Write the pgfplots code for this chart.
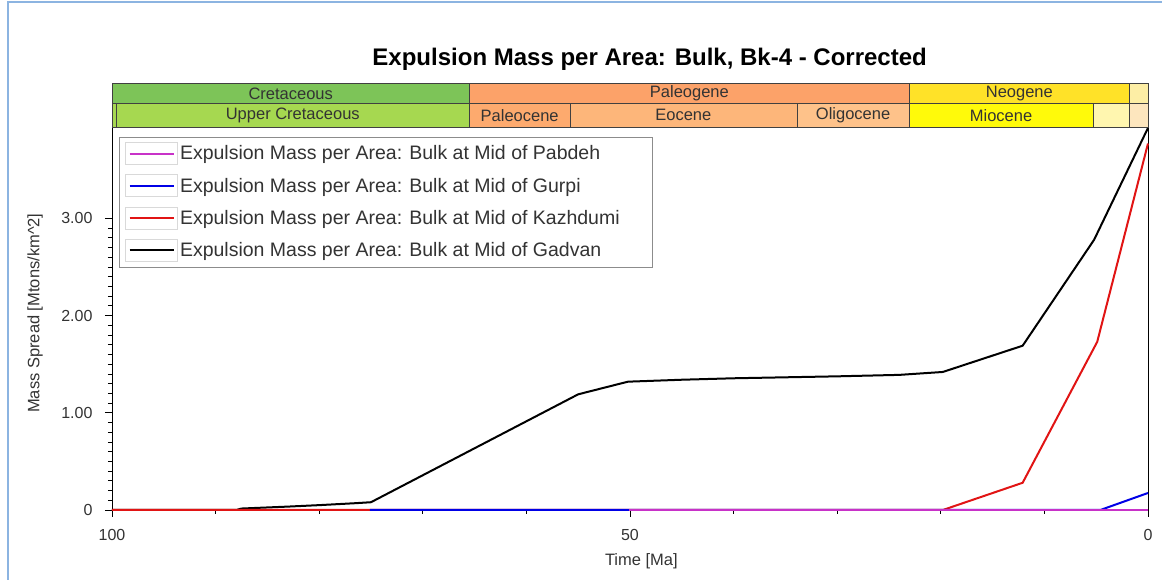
\documentclass[border=0pt]{standalone}
\usepackage{pgfplots}
\pgfplotsset{compat=1.18}
\usepackage{fontspec}
\setmainfont{Liberation Sans}

\definecolor{pabdeh}{RGB}{200,50,200}
\definecolor{gurpi}{RGB}{0,0,230}
\definecolor{kazh}{RGB}{225,20,20}
\definecolor{frameblue}{RGB}{140,180,225}
% stratigraphy colours
\definecolor{cret}{RGB}{125,196,88}
\definecolor{ucret}{RGB}{166,216,80}
\definecolor{paleog}{RGB}{252,162,105}
\definecolor{paleoc}{RGB}{253,170,110}
\definecolor{eoc}{RGB}{253,182,122}
\definecolor{oligo}{RGB}{254,194,138}
\definecolor{neog}{RGB}{255,226,40}
\definecolor{mioc}{RGB}{255,250,10}
\definecolor{plioc}{RGB}{255,246,175}
\definecolor{quat}{RGB}{253,238,165}
\definecolor{pleist}{RGB}{253,230,190}

\newcommand\stratfont{\fontsize{16.5}{19}\selectfont}
% row 1 = periods, row 2 = epochs
\newcommand\cellA[4]{%
  \draw[black!75,fill=#3] (axis cs:#1,4.18) rectangle (axis cs:#2,4.39);
  \node[text=black!80,font=\stratfont] at (axis cs:{(#1+#2)/2},4.285) {#4};}
\newcommand\cellB[4]{%
  \draw[black!75,fill=#3] (axis cs:#1,3.94) rectangle (axis cs:#2,4.18);
  \node[text=black!80,font=\stratfont] at (axis cs:{(#1+#2)/2},4.06) {#4};}

\begin{document}
\begin{tikzpicture}
\begin{axis}[
  scale only axis, width=1036pt, height=383pt,
  xmin=0, xmax=100, x dir=reverse,
  ymin=0, ymax=3.94,
  clip=false,
  xtick={0,50,100}, ytick={0,1,2,3},
  yticklabels={0,1.00,2.00,3.00},
  minor x tick num=4, minor y tick num=9,
  xtick pos=bottom, ytick pos=left,
  tick align=outside, major tick length=7pt, minor tick length=4pt,
  tick style={black, thick},
  axis line style={black, thick},
  /pgf/number format/assume math mode=true,
  ticklabel style={font=\fontsize{16}{19}\selectfont, text=black!80},
  yticklabel style={xshift=-9pt},
  xticklabel style={yshift=-9pt},
  xlabel={Time [Ma]},
  ylabel={Mass Spread [Mtons/km\textasciicircum2]},
  label style={font=\fontsize{16.5}{19}\selectfont, text=black!80},
  xlabel style={at={(rel axis cs:0.511,-0.133)}, anchor=center},
  ylabel style={at={(rel axis cs:-0.0743,0.514)}, anchor=center},
  title={Expulsion Mass per Area: Bulk, Bk-4 - Corrected},
  title style={at={(rel axis cs:0.519,1.16)}, anchor=center,
    font=\fontsize{24}{28}\selectfont\bfseries},
  reverse legend,
  legend style={at={(rel axis cs:0.0068,0.974)}, anchor=north west,
    draw=black!45, fill=white, font=\fontsize{19.5}{23}\selectfont,
    text=black!80, cells={anchor=west}, row sep=9.5pt,
    inner xsep=6pt, inner ysep=5pt},
  legend image code/.code={
    \draw[black!15,line width=0.8pt] (-4pt,-11pt) rectangle (48pt,11pt);
    \draw[#1] (0pt,0pt) -- (44pt,0pt);},
  every axis plot/.append style={line width=2pt},
]
% Gadvan
\addplot[black] coordinates {
  (100,0) (88,0) (87.5,0.015) (83,0.035) (80,0.05) (76.5,0.07) (75,0.08)
  (55,1.19) (50.2,1.32) (45,1.34) (40,1.355) (30,1.375) (24,1.39)
  (19.8,1.42) (12.1,1.69) (5.2,2.78) (0,3.93)
};
% Kazhdumi
\addplot[kazh] coordinates {
  (100,0) (19.8,0) (12.1,0.28) (4.9,1.73) (0,3.77)
};
% Gurpi
\addplot[gurpi] coordinates {
  (75.1,0) (4.6,0) (0,0.175)
};
% Pabdeh
\addplot[pabdeh] coordinates {
  (50.1,0) (0,0)
};
\legend{Expulsion Mass per Area: Bulk at Mid of Gadvan,
  Expulsion Mass per Area: Bulk at Mid of Kazhdumi,
  Expulsion Mass per Area: Bulk at Mid of Gurpi,
  Expulsion Mass per Area: Bulk at Mid of Pabdeh\hspace*{44pt}}

\cellA{100}{65.5}{cret}{Cretaceous}
\cellA{65.5}{23.03}{paleog}{Paleogene}
\cellA{23.03}{1.8}{neog}{Neogene}
\cellA{1.8}{0}{quat}{}
\cellB{100}{99.6}{ucret}{}
\cellB{99.6}{65.5}{ucret}{Upper Cretaceous}
\cellB{65.5}{55.8}{paleoc}{Paleocene}
\cellB{55.8}{33.9}{eoc}{Eocene}
\cellB{33.9}{23.03}{oligo}{Oligocene}
\cellB{23.03}{5.33}{mioc}{Miocene}
\cellB{5.33}{1.8}{plioc}{}
\cellB{1.8}{0}{pleist}{}
\end{axis}
\draw[frameblue, line width=1.5pt] (-104pt,-80pt) -- (-104pt,508pt) -- (1060pt,508pt);
\pgfresetboundingbox
\path (-112pt,-70pt) rectangle (1050pt,510pt);
\end{tikzpicture}
\end{document}
